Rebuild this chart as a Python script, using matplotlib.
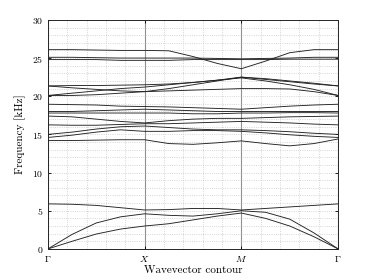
import matplotlib
matplotlib.use("Agg")
import matplotlib.pyplot as plt
from matplotlib.ticker import MultipleLocator

plt.rcParams['font.family'] = 'serif'
plt.rcParams['font.serif'] = ['cmr10', 'DejaVu Serif']
plt.rcParams['mathtext.fontset'] = 'cm'
plt.rcParams['axes.formatter.use_mathtext'] = True

# path coordinate samples: Gamma(0) -> X(1) -> M(2) -> Gamma(3)
k_path = [0, 0.25, 0.5, 0.75, 1, 1.25, 1.5, 1.75, 2, 2.25, 2.5, 2.75, 3]

band_01 = [0, 1.0, 1.95, 2.6, 3.0, 3.3, 3.8, 4.3, 4.7, 4.0, 3.0, 1.6, 0]
band_02 = [0, 1.9, 3.4, 4.2, 4.6, 4.4, 4.3, 4.6, 5.0, 4.8, 3.9, 2.1, 0]
band_03 = [5.9, 5.85, 5.7, 5.4, 5.1, 5.15, 5.3, 5.3, 5.1, 5.3, 5.5, 5.7, 5.9]
band_04 = [14.2, 14.2, 14.25, 14.3, 14.3, 13.8, 13.7, 13.9, 14.15, 13.8, 13.5, 13.8, 14.4]
band_05 = [14.6, 14.9, 15.3, 15.6, 15.4, 15.4, 15.5, 15.5, 15.4, 15.2, 14.95, 14.75, 14.6]
band_06 = [15.0, 15.3, 15.7, 16.0, 16.1, 15.9, 15.7, 15.6, 15.6, 15.5, 15.35, 15.15, 15.0]
band_07 = [16.25, 16.2, 16.2, 16.3, 16.4, 16.4, 16.5, 16.6, 16.7, 16.6, 16.5, 16.35, 16.25]
band_08 = [17.4, 17.3, 17.0, 16.7, 16.5, 16.8, 17.0, 17.1, 17.1, 17.2, 17.3, 17.35, 17.4]
band_09 = [17.8, 17.8, 17.8, 17.8, 17.8, 17.8, 17.7, 17.7, 17.8, 17.8, 17.85, 17.85, 17.8]
band_10 = [18.0, 18.0, 18.1, 18.2, 18.3, 18.2, 18.1, 18.0, 18.0, 18.0, 18.0, 18.0, 18.0]
band_11 = [18.95, 18.9, 18.85, 18.7, 18.65, 18.6, 18.5, 18.4, 18.3, 18.5, 18.7, 18.85, 18.95]
band_12 = [20.1, 20.1, 20.2, 20.4, 20.6, 20.7, 20.8, 20.9, 21.0, 21.0, 20.95, 20.6, 20.1]
band_13 = [20.1, 20.4, 20.7, 21.0, 21.2, 21.5, 21.8, 22.1, 22.4, 22.0, 21.5, 20.9, 20.1]
band_14 = [21.35, 21.1, 20.9, 20.7, 20.6, 21.0, 21.5, 22.0, 22.5, 22.2, 21.9, 21.6, 21.35]
band_15 = [21.35, 21.4, 21.4, 21.45, 21.5, 21.6, 21.8, 22.1, 22.5, 22.3, 22.0, 21.7, 21.35]
band_16 = [24.8, 24.8, 24.8, 24.7, 24.7, 24.7, 24.8, 24.8, 24.8, 24.8, 24.85, 24.85, 24.85]
band_17 = [25.1, 25.1, 25.05, 25.0, 25.0, 25.0, 25.0, 24.95, 24.9, 24.95, 25.0, 25.1, 25.1]
band_18 = [26.1, 26.1, 26.05, 26.0, 26.0, 25.95, 25.2, 24.3, 23.6, 24.6, 25.7, 26.1, 26.1]

bands = [band_01, band_02, band_03, band_04, band_05, band_06, band_07, band_08,
         band_09, band_10, band_11, band_12, band_13, band_14, band_15, band_16,
         band_17, band_18]

tick_pos = [0, 1, 2, 3]
tick_labels = [r'$\Gamma$', r'$X$', r'$M$', r'$\Gamma$']

fig = plt.figure(figsize=(3.74, 2.80), dpi=100)
ax = fig.add_axes([0.128, 0.111, 0.776, 0.818])

for b in bands:
    ax.plot(k_path, b, color='#222222', lw=0.65)

ax.set_xlim(0, 3)
ax.set_ylim(0, 30)
ax.set_xticks(tick_pos)
ax.set_xticklabels(tick_labels)
ax.set_yticks([0, 5, 10, 15, 20, 25, 30])
ax.xaxis.set_minor_locator(MultipleLocator(0.2))
ax.yaxis.set_minor_locator(MultipleLocator(1))
ax.grid(which='minor', color='#c8c8c8', ls=':', lw=0.6)
ax.grid(which='major', axis='y', color='#c8c8c8', ls=':', lw=0.6)
ax.grid(which='major', axis='x', color='#909090', ls='-', lw=0.8)
ax.set_axisbelow(True)
ax.tick_params(which='both', direction='in', top=True, right=True, labelsize=7, length=2.5, width=0.6)
ax.tick_params(which='minor', length=0)
for s in ax.spines.values():
    s.set_linewidth(0.7)
    s.set_color('#262626')
ax.set_xlabel('Wavevector contour', fontsize=8, labelpad=1)
ax.set_ylabel('Frequency [kHz]', fontsize=8, labelpad=4)

fig.savefig('out.png', dpi=100)
